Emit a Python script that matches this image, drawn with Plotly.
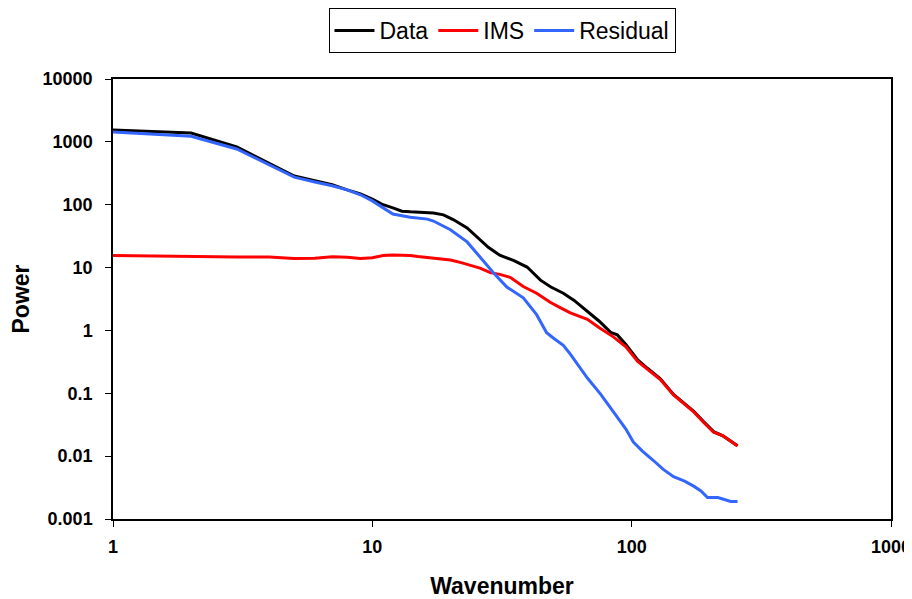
import plotly.graph_objects as go

# Wavenumbers and powers
data_k = [1, 2, 3, 4, 5, 6, 7, 8, 9, 10, 11, 12, 13, 14, 16, 17.2, 18.8, 20.5, 23.2, 26, 28, 31, 35, 39.5, 44.5, 48.8, 54.5, 60, 65, 75, 83, 88, 95, 101, 105.5, 115, 129, 145, 160, 174, 190, 207, 225, 241, 256]
data_p = [1550, 1380, 828, 461, 286, 240, 208, 172, 148, 123, 100, 89, 79, 77, 74, 74, 69, 58, 42.6, 28, 21, 15.7, 13, 10.2, 6.3, 4.9, 3.9, 3.0, 2.3, 1.4, 0.93, 0.85, 0.6, 0.44, 0.34, 0.25, 0.17, 0.096, 0.068, 0.051, 0.035, 0.0245, 0.021, 0.0175, 0.0147]

ims_k = [1, 2, 3, 4, 5, 6, 7, 8, 9, 10, 11, 12, 13, 14, 15, 16, 17.2, 18.5, 20, 22, 23.9, 26, 28.5, 31, 34, 38.2, 43, 48.5, 53, 58, 67.5, 75, 85, 95, 105.5, 115, 129, 145, 160, 174, 190, 207, 225, 241, 256]
ims_p = [15.5, 14.8, 14.7, 14.7, 14.0, 14.1, 14.8, 14.6, 14.0, 14.3, 15.5, 15.8, 15.8, 15.6, 15.0, 14.5, 14.0, 13.5, 13.2, 12.0, 11.0, 9.8, 8.3, 7.8, 7.0, 5.0, 3.9, 2.8, 2.3, 1.9, 1.5, 1.1, 0.79, 0.55, 0.32, 0.24, 0.165, 0.094, 0.068, 0.05, 0.034, 0.024, 0.021, 0.017, 0.0145]

res_k = [1, 2, 3, 4, 5, 6, 7, 8, 9, 10, 11, 12, 14, 16.3, 17.2, 20, 23.2, 26, 29.3, 33, 38.2, 43, 47, 50, 54.5, 58, 61.6, 67.5, 76, 88, 95, 101.5, 110, 121, 132, 145, 160, 174, 185, 196, 215, 241, 256]
res_p = [1435, 1230, 770, 430, 275, 230, 200, 172, 144, 115, 89, 71, 63, 59, 55, 40, 25.6, 14.6, 8.3, 4.9, 3.3, 1.78, 0.92, 0.75, 0.58, 0.42, 0.30, 0.175, 0.096, 0.042, 0.027, 0.0168, 0.012, 0.0086, 0.0062, 0.0047, 0.004, 0.0033, 0.0028, 0.0022, 0.0022, 0.0019, 0.0019]

y_ticks = [0.001, 0.01, 0.1, 1, 10, 100, 1000, 10000]
y_labels = ["0.001", "0.01", "0.1", "1", "10", "100", "1000", "10000"]
x_ticks = [1, 10, 100, 1000]
x_labels = ["1", "10", "100", "1000"]

font = "Liberation Sans, Arial, sans-serif"

fig = go.Figure()
fig.add_trace(go.Scatter(x=data_k, y=data_p, mode="lines", name="Data",
                         line=dict(color="#000000", width=3)))
fig.add_trace(go.Scatter(x=ims_k, y=ims_p, mode="lines", name="IMS",
                         line=dict(color="#FF0000", width=3)))
fig.add_trace(go.Scatter(x=res_k, y=res_p, mode="lines", name="Residual",
                         line=dict(color="#3366FF", width=3)))

fig.update_layout(
    width=904, height=591,
    margin=dict(l=105, r=21, t=71, b=80, autoexpand=False),
    paper_bgcolor="white", plot_bgcolor="white",
    font=dict(family=font, color="black"),
    showlegend=True,
    legend=dict(orientation="h", x=0.5, xanchor="center", y=1.0, yanchor="top",
                yref="container", bordercolor="black", borderwidth=1,
                font=dict(size=23, family=font), bgcolor="white",
                itemwidth=40, tracegroupgap=0),
    xaxis=dict(type="log", range=[0, 3], tickvals=x_ticks, ticktext=x_labels,
               automargin=False,
               showgrid=False, zeroline=False, showline=True, linecolor="black",
               linewidth=1.5, mirror=True, ticks="outside", ticklen=6,
               ticklabelstandoff=5,
               tickcolor="black", tickfont=dict(size=18, family=font, weight="bold"),
               title=dict(text="<b>Wavenumber</b>", font=dict(size=23, family=font),
                          standoff=23)),
    yaxis=dict(type="log", range=[-3, 4], tickvals=y_ticks, ticktext=y_labels,
               automargin=False,
               showgrid=False, zeroline=False, showline=True, linecolor="black",
               linewidth=1.5, mirror=True, ticks="outside", ticklen=6,
               ticklabelstandoff=9,
               tickcolor="black", tickfont=dict(size=18, family=font, weight="bold"),
               title=dict(text="<b>Power</b>", font=dict(size=23, family=font),
                          standoff=10)),
)

fig.write_html("out.html")
